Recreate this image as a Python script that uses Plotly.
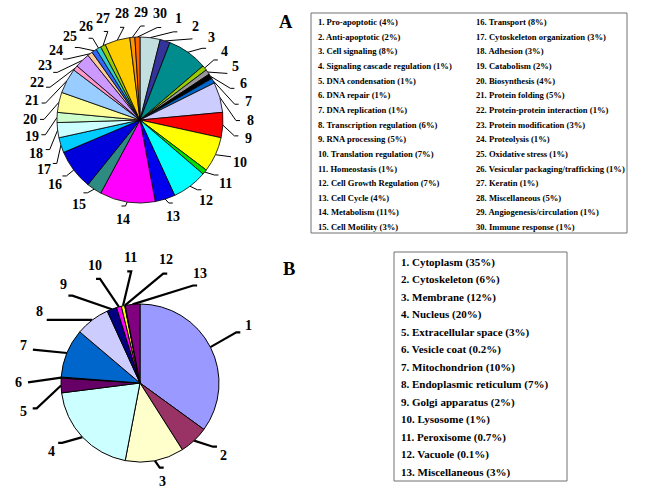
import math
import plotly.graph_objects as go

# ---------------- data ----------------
func_names = ["Pro-apoptotic", "Anti-apoptotic", "Cell signaling", "Signaling cascade regulation",
              "DNA condensation", "DNA repair", "DNA replication", "Transcription regulation",
              "RNA processing", "Translation regulation", "Homeostasis", "Cell Growth Regulation",
              "Cell Cycle", "Metabolism", "Cell Motility", "Transport", "Cytoskeleton organization",
              "Adhesion", "Catabolism", "Biosynthesis", "Protein folding", "Protein-protein interaction",
              "Protein modification", "Proteolysis", "Oxidative stress", "Vesicular packaging/trafficking",
              "Keratin", "Miscellaneous", "Angiogenesis/circulation", "Immune response"]
func_pct = [4, 2, 8, 1, 1, 1, 1, 6, 5, 7, 1, 7, 4, 11, 3, 8, 3, 3, 2, 4, 5, 1, 3, 1, 1, 1, 1, 5, 1, 1]
func_colors = ["#C2DEDE", "#333399", "#008C8C", "#99CC00", "#969696", "#000000", "#0066CC", "#CCCCFF",
               "#FF0000", "#FFFF00", "#00DD00", "#00FFFF", "#0000EE", "#FF00FF", "#2E8B82", "#0000DD",
               "#00CCFF", "#CCFFFF", "#CCFFCC", "#FFFF99", "#99CCFF", "#FF99CC", "#CC99FF", "#FFCC99",
               "#3366FF", "#33CCCC", "#99CC00", "#FFCC00", "#FF9900", "#FF6600"]

loc_names = ["Cytoplasm", "Cytoskeleton", "Membrane", "Nucleus", "Extracellular space", "Vesicle coat",
             "Mitochondrion", "Endoplasmic reticulum", "Golgi apparatus", "Lysosome", "Peroxisome",
             "Vacuole", "Miscellaneous"]
loc_pct = [35, 6, 12, 20, 3, 0.2, 10, 7, 2, 1, 0.7, 0.1, 3]
loc_colors = ["#9999FF", "#993366", "#FFFFCC", "#CCFFFF", "#660066", "#FF8080", "#0066CC", "#CCCCFF",
              "#000080", "#FF00FF", "#FFFF00", "#00FFFF", "#800080"]

panel_letters = ["A", "B"]

# ---------------- layout helpers ----------------
W, H = 645, 495
SERIF = "Liberation Serif, Times New Roman, serif"


def mid_angles(vals):
    tot = float(sum(vals))
    acc = 0.0
    out = []
    for v in vals:
        out.append((acc + v / 2.0) / tot * 360.0)
        acc += v
    return out


def spread(angles, sep):
    n = len(angles)
    order = sorted(range(n), key=lambda i: angles[i])
    gaps = [((angles[order[(k + 1) % n]] - angles[order[k]]) % 360) for k in range(n)]
    k0 = max(range(n), key=lambda k: gaps[k])
    seq = order[k0 + 1:] + order[:k0 + 1]
    base = angles[seq[0]]
    want = [base + ((angles[i] - base) % 360) for i in seq]
    groups = [[w] for w in want]

    def pos(g):
        c = sum(g) / len(g)
        return [c + (j - (len(g) - 1) / 2.0) * sep for j in range(len(g))]

    merged = True
    while merged:
        merged = False
        for k in range(len(groups) - 1):
            if pos(groups[k])[-1] + sep > pos(groups[k + 1])[0] + 1e-9:
                groups[k] = groups[k] + groups[k + 1]
                del groups[k + 1]
                merged = True
                break
    placed = [p for g in groups for p in pos(g)]
    out = [0.0] * n
    for i, p in zip(seq, placed):
        out[i] = p
    return out


fig = go.Figure()
annotations = []
shapes = []


def add_pie(vals, colors, names, cx, cy, r, Rx, Rtop, Rbot, sep, lw, outline_w, fsize, gap):
    fig.add_trace(go.Pie(
        values=vals, labels=[f"{i + 1}. {n}" for i, n in enumerate(names)],
        marker=dict(colors=colors, line=dict(color="black", width=outline_w)),
        sort=False, direction="clockwise", rotation=0, textinfo="none",
        hoverinfo="label+percent", showlegend=False,
        domain=dict(x=[(cx - r) / W, (cx + r) / W], y=[1 - (cy + r) / H, 1 - (cy - r) / H]),
    ))
    mids = mid_angles(vals)
    placed = spread(mids, sep)
    xs, ys = [], []
    for i, (m, p) in enumerate(zip(mids, placed)):
        mr, pr = math.radians(m), math.radians(p)
        x0, y0 = cx + r * math.sin(mr), cy - r * math.cos(mr)
        ry = Rtop if math.cos(pr) > 0 else Rbot
        dx, dy = Rx * math.sin(pr), -ry * math.cos(pr)
        lx, ly = cx + dx, cy + dy
        d = math.hypot(dx, dy)
        f = (d - gap) / d
        x1, y1 = cx + dx * f, cy + dy * f
        sg = 1 if math.sin(pr) >= 0 else -1
        x2 = x1 + sg * 4
        xs += [x0, x1, x2, None]
        ys += [y0, y1, y1, None]
        annotations.append(dict(x=lx, y=ly, xref="x", yref="y", text=str(i + 1), showarrow=False,
                                xanchor="center", yanchor="middle",
                                font=dict(family=SERIF, size=fsize, color="black", weight="bold")))
    fig.add_trace(go.Scatter(x=xs, y=ys, mode="lines", line=dict(color="black", width=lw),
                             hoverinfo="skip", showlegend=False))


add_pie(func_pct, func_colors, func_names, 140, 120, 83, 110, 108, 101, 10.0, 1, 0.8, 14, 14)
add_pie(loc_pct, loc_colors, loc_names, 140, 383, 79, 122, 126, 100, 17.0, 2.2, 1, 14, 14)

# panel letters
for letter, (lx, ly) in zip(panel_letters, [(286, 22), (289, 269)]):
    annotations.append(dict(x=lx, y=ly, xref="x", yref="y", text=letter, showarrow=False,
                            xanchor="center", yanchor="middle",
                            font=dict(family=SERIF, size=18.5, color="black", weight="bold")))

# legend box A
shapes.append(dict(type="rect", xref="x", yref="y", x0=311, y0=13, x1=627, y1=233,
                   line=dict(color="#707070", width=1), fillcolor="rgba(0,0,0,0)"))
for i, (n, p) in enumerate(zip(func_names, func_pct)):
    col, row = divmod(i, 15)
    annotations.append(dict(x=316 + col * 158, y=22 + row * 14.65, xref="x", yref="y",
                            text=f"{i + 1}. {n} ({p:g}%)", showarrow=False,
                            xanchor="left", yanchor="middle",
                            font=dict(family=SERIF, size=8.6, color="black", weight="bold")))

# legend box B
shapes.append(dict(type="rect", xref="x", yref="y", x0=394, y0=252, x1=567, y1=481,
                   line=dict(color="#707070", width=1), fillcolor="rgba(0,0,0,0)"))
for i, (n, p) in enumerate(zip(loc_names, loc_pct)):
    annotations.append(dict(x=399, y=262 + i * 17.5, xref="x", yref="y",
                            text=f"{i + 1}. {n} ({p:g}%)", showarrow=False,
                            xanchor="left", yanchor="middle",
                            font=dict(family=SERIF, size=11, color="black", weight="bold")))

fig.update_layout(
    width=W, height=H, margin=dict(l=0, r=0, t=0, b=0),
    paper_bgcolor="white", plot_bgcolor="rgba(0,0,0,0)",
    xaxis=dict(range=[0, W], visible=False, domain=[0, 1], fixedrange=True),
    yaxis=dict(range=[H, 0], visible=False, domain=[0, 1], fixedrange=True),
    annotations=annotations, shapes=shapes, showlegend=False,
)

fig.write_html("out.html", config={"displayModeBar": False},
               post_script="document.body.style.margin='0px';document.body.style.overflow='hidden';")
